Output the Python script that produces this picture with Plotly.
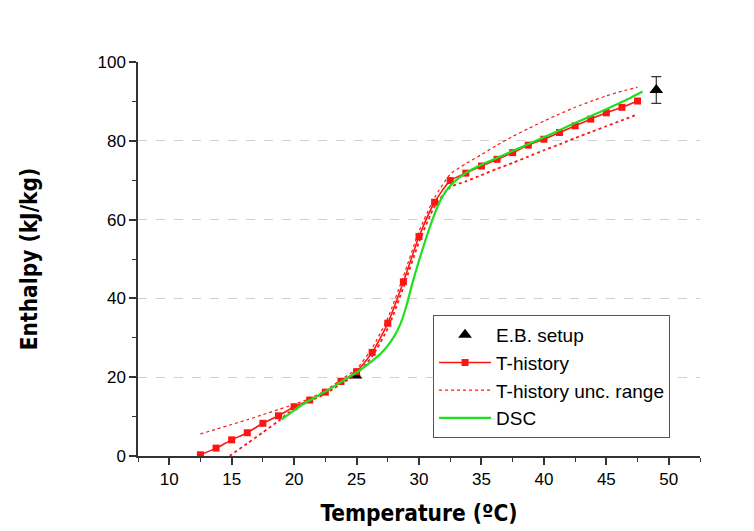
import plotly.graph_objects as go

# ---------------- data ----------------
eb_T = [24.9, 49.0]
eb_H = [20.4, 92.9]
eb_err = [0.0, 3.4]

th_T = [12.5, 13.75, 15.0, 16.25, 17.5, 18.75, 20.0, 21.25, 22.5, 23.75, 25.0, 26.25,
        27.5, 28.75, 30.0, 31.25, 32.5, 33.75, 35.0, 36.25, 37.5, 38.75, 40.0, 41.25,
        42.5, 43.75, 45.0, 46.25, 47.5]
th_H = [0.3, 2.0, 4.1, 5.9, 8.3, 10.2, 12.5, 14.2, 16.2, 18.9, 21.4, 26.3,
        33.7, 44.2, 55.7, 64.4, 69.9, 71.8, 73.6, 75.3, 77.0, 78.9, 80.4, 82.1,
        83.8, 85.5, 87.1, 88.5, 90.1]
th_upper = [5.6, 6.8, 8.0, 9.2, 10.5, 11.8, 13.1, 14.6, 16.6, 19.4, 22.1, 27.4,
            35.0, 45.6, 57.0, 65.6, 71.5, 74.2, 76.5, 78.9, 81.1, 83.1, 85.0, 86.8,
            88.5, 90.0, 91.4, 92.6, 93.6]
th_lower = [-5.3, -2.5, 0.4, 3.2, 6.0, 8.9, 12.1, 13.9, 15.8, 18.3, 20.8, 25.3,
            32.4, 42.8, 54.3, 63.3, 68.2, 69.7, 71.3, 72.9, 74.4, 76.0, 77.6, 79.1,
            80.7, 82.2, 83.7, 85.2, 86.7]

dsc_T = [19.0, 20.0, 21.0, 22.0, 23.0, 24.0, 25.0, 25.5, 26.0, 26.5, 27.0, 27.5, 28.0,
         28.5, 29.0, 29.5, 30.0, 30.5, 31.0, 31.5, 32.0, 32.5, 33.0, 33.5, 34.0, 35.0,
         36.0, 37.0, 38.0, 39.0, 40.0, 41.0, 42.0, 43.0, 44.0, 45.0, 46.0, 47.0, 47.9]
dsc_H = [9.3, 11.6, 13.7, 15.5, 17.3, 19.3, 21.2, 22.3, 23.5, 24.8, 26.2, 28.0, 30.3,
         33.4, 38.2, 44.2, 49.6, 54.6, 59.3, 63.4, 66.5, 68.6, 70.1, 71.3, 72.3, 73.9,
         75.3, 76.7, 78.1, 79.5, 80.9, 82.3, 83.8, 85.2, 86.6, 88.0, 89.5, 91.0, 92.5]

x_ticks = [10, 15, 20, 25, 30, 35, 40, 45, 50]
y_ticks = [0, 20, 40, 60, 80, 100]

RED = "rgb(255,20,20)"
GREEN = "rgb(30,225,30)"
FONT = "Liberation Sans, Arial, sans-serif"
TITLE_FONT = "Liberation Sans Narrow, Arial Narrow, DejaVu Sans Condensed, sans-serif"

fig = go.Figure()

fig.add_trace(go.Scatter(
    x=eb_T, y=eb_H, mode="markers", name="E.B. setup",
    marker=dict(symbol="triangle-up", size=12, color="black"),
    error_y=dict(type="data", array=eb_err, visible=True, color="#333", thickness=1.2, width=5),
))
fig.add_trace(go.Scatter(
    x=th_T, y=th_H, mode="lines+markers", name="T-history",
    line=dict(color=RED, width=1.6, shape="spline", smoothing=0.6),
    marker=dict(symbol="square", size=7, color=RED),
))
fig.add_trace(go.Scatter(
    x=th_T, y=th_upper, mode="lines", name="T-history unc. range",
    line=dict(color=RED, width=1.2, dash="dot", shape="spline", smoothing=0.6),
    legendgroup="unc",
))
fig.add_trace(go.Scatter(
    x=th_T, y=th_lower, mode="lines", name="T-history unc. range",
    line=dict(color=RED, width=1.8, dash="dot", shape="spline", smoothing=0.6),
    legendgroup="unc", showlegend=False,
))
fig.add_trace(go.Scatter(
    x=dsc_T, y=dsc_H, mode="lines", name="DSC",
    line=dict(color=GREEN, width=2.2, shape="spline", smoothing=0.6),
))

axis_common = dict(
    showline=True, linecolor="#333", linewidth=1.5,
    ticks="outside", ticklen=7, tickwidth=1.5, tickcolor="#333",
    tickfont=dict(family=FONT, size=17, color="#000"),
    zeroline=False,
)

title_font = dict(family=TITLE_FONT, size=22.5, color="#000", weight="bold")

fig.update_xaxes(
    range=[7.5, 52.5], tickvals=x_ticks, showgrid=False,
    minor=dict(ticks="outside", ticklen=4, tickwidth=1.2, tickcolor="#333", dtick=2.5, tick0=7.5),
    title=dict(text="Temperature (ºC)", font=title_font, standoff=17),
    **axis_common,
)
fig.update_yaxes(
    range=[0, 100], tickvals=y_ticks, showgrid=True, gridcolor="#cfcfcf", gridwidth=1, griddash="dash",
    minor=dict(ticks="outside", ticklen=4, tickwidth=1.2, tickcolor="#333", dtick=10, tick0=0),
    title=dict(text="Enthalpy (kJ/kg)", font=title_font, standoff=54),
    **axis_common,
)

fig.update_layout(
    width=754, height=531,
    margin=dict(l=138, r=54, t=62, b=75, autoexpand=False),
    plot_bgcolor="white", paper_bgcolor="white",
    font=dict(family=FONT, color="#000"),
    legend=dict(
        x=0.525, y=0.358, xanchor="left", yanchor="top",
        bgcolor="white", bordercolor="#555", borderwidth=1,
        font=dict(family=FONT, size=19, color="#000"),
        itemwidth=52, tracegroupgap=0,
    ),
    showlegend=True,
)

fig.write_html("out.html")
